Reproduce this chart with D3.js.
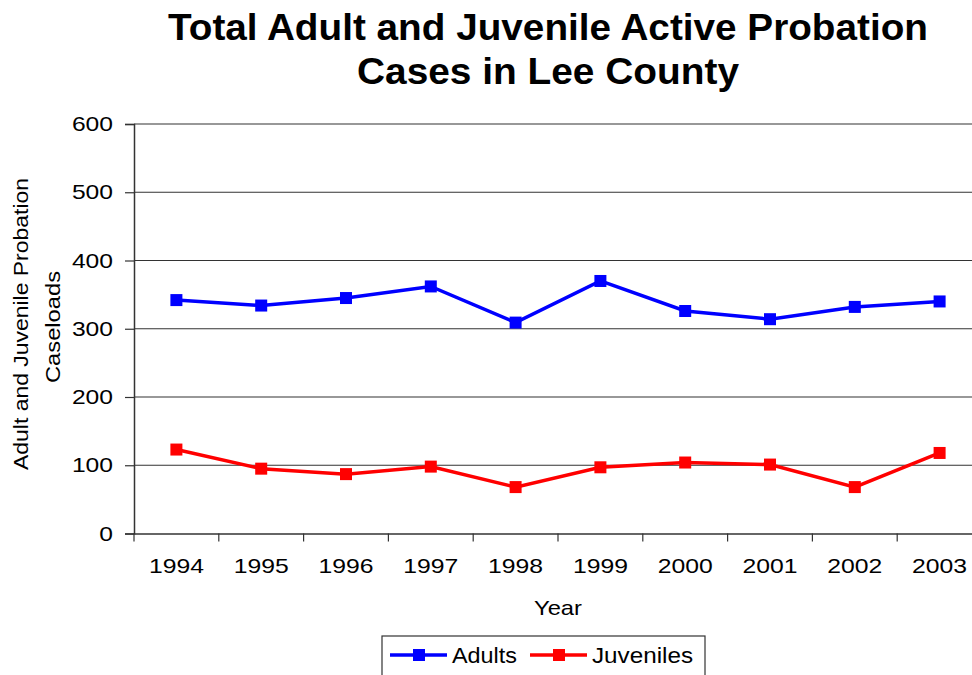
<!DOCTYPE html>
<html>
<head>
<meta charset="utf-8">
<script src="https://cdn.jsdelivr.net/npm/d3@7"></script>
<style>
  body { margin: 0; background: #fff; }
  svg { display: block; font-family: "Liberation Sans", Arial, sans-serif; }
</style>
</head>
<body>
<script>
const width = 972;
const height = 675;

const years = ["1994", "1995", "1996", "1997", "1998", "1999", "2000", "2001", "2002", "2003"];
const adults = [342, 334, 345, 362, 309, 370, 326, 314, 332, 340];
const juveniles = [123, 95, 87, 98, 68, 97, 104, 101, 68, 118];
const yTicks = [0, 100, 200, 300, 400, 500, 600];

const series = [
  { name: "Adults", values: adults, color: "#0000ff" },
  { name: "Juveniles", values: juveniles, color: "#ff0000" },
];

let margin = { top: 124, right: -10, bottom: 141.5, left: 134 };

let svg = d3
  .select("body")
  .append("svg")
  .attr("width", width)
  .attr("height", height);

let xScale = d3
  .scaleBand()
  .domain(years)
  .range([margin.left, width - margin.right]);

let yScale = d3
  .scaleLinear()
  .domain([0, 600])
  .range([height - margin.bottom, margin.top]);

// title
svg
  .append("text")
  .attr("x", 548)
  .attr("y", 40)
  .attr("text-anchor", "middle")
  .attr("font-size", 37)
  .attr("font-weight", "bold")
  .attr("textLength", 760)
  .attr("lengthAdjust", "spacingAndGlyphs")
  .text("Total Adult and Juvenile Active Probation");

svg
  .append("text")
  .attr("x", 548)
  .attr("y", 84)
  .attr("text-anchor", "middle")
  .attr("font-size", 37)
  .attr("font-weight", "bold")
  .attr("textLength", 382)
  .attr("lengthAdjust", "spacingAndGlyphs")
  .text("Cases in Lee County");

// gridlines
svg
  .append("g")
  .selectAll("line")
  .data(yTicks.filter((d) => d > 0))
  .join("line")
  .attr("x1", margin.left)
  .attr("x2", width)
  .attr("y1", (d) => yScale(d))
  .attr("y2", (d) => yScale(d))
  .attr("stroke", "#333")
  .attr("stroke-width", 1.2);

// axes
let leftAxis = d3.axisLeft(yScale).tickValues(yTicks).tickSize(9).tickPadding(12);
let yAxisG = svg
  .append("g")
  .attr("transform", `translate(${margin.left}, 0)`)
  .call(leftAxis);

let bottomAxis = d3
  .axisBottom(xScale)
  .tickSize(0)
  .tickPadding(25);
let xAxisG = svg
  .append("g")
  .attr("transform", `translate(0, ${yScale(0)})`)
  .call(bottomAxis);

// x ticks at category boundaries
svg
  .append("g")
  .selectAll("line")
  .data(years)
  .join("line")
  .attr("x1", (d) => xScale(d))
  .attr("x2", (d) => xScale(d))
  .attr("y1", yScale(0))
  .attr("y2", yScale(0) + 8)
  .attr("stroke", "#333")
  .attr("stroke-width", 1.2);

[yAxisG, xAxisG].forEach((g) => {
  g.select(".domain").attr("stroke", "#333").attr("stroke-width", 1.5);
  g.selectAll(".tick line").attr("stroke", "#333").attr("stroke-width", 1.2);
  g.selectAll(".tick text")
    .attr("font-size", 21)
    .attr("fill", "#000")
    .attr("font-family", "Liberation Sans, Arial, sans-serif")
    .attr("lengthAdjust", "spacingAndGlyphs");
});
xAxisG.selectAll(".tick text").attr("textLength", 55);
yAxisG.selectAll(".tick text").attr("textLength", (d) => String(d).length * 13.7);

// axis titles
svg
  .append("text")
  .attr("x", 558)
  .attr("y", 615)
  .attr("text-anchor", "middle")
  .attr("font-size", 21)
  .attr("textLength", 48)
  .attr("lengthAdjust", "spacingAndGlyphs")
  .text("Year");

let yTitle = svg
  .append("text")
  .attr("transform", "translate(28, 324) rotate(-90)")
  .attr("text-anchor", "middle")
  .attr("font-size", 21)
  .attr("lengthAdjust", "spacingAndGlyphs");
yTitle
  .append("tspan")
  .attr("x", 0)
  .attr("y", 0)
  .attr("textLength", 292)
  .attr("lengthAdjust", "spacingAndGlyphs")
  .text("Adult and Juvenile Probation");
yTitle
  .append("tspan")
  .attr("x", -3)
  .attr("y", 32)
  .attr("textLength", 112)
  .attr("lengthAdjust", "spacingAndGlyphs")
  .text("Caseloads");

// lines and markers
let line = d3
  .line()
  .x((d, i) => xScale(years[i]) + xScale.bandwidth() / 2)
  .y((d) => yScale(d));

series.forEach((s) => {
  svg
    .append("path")
    .datum(s.values)
    .attr("fill", "none")
    .attr("stroke", s.color)
    .attr("stroke-width", 3.5)
    .attr("d", line);

  svg
    .append("g")
    .selectAll("rect")
    .data(s.values)
    .join("rect")
    .attr("x", (d, i) => xScale(years[i]) + xScale.bandwidth() / 2 - 6)
    .attr("y", (d) => yScale(d) - 6)
    .attr("width", 12)
    .attr("height", 12)
    .attr("fill", s.color);
});

// legend
let legend = svg.append("g").attr("transform", "translate(382, 636)");
legend
  .append("rect")
  .attr("width", 323)
  .attr("height", 50)
  .attr("fill", "#fff")
  .attr("stroke", "#333")
  .attr("stroke-width", 1.2);

let legendX = [8, 148];
let legendW = [65, 101];
series.forEach((s, i) => {
  let item = legend.append("g").attr("transform", `translate(${legendX[i]}, 19)`);
  item
    .append("line")
    .attr("x1", 0)
    .attr("x2", 57)
    .attr("stroke", s.color)
    .attr("stroke-width", 3.5);
  item
    .append("rect")
    .attr("x", 23)
    .attr("y", -6)
    .attr("width", 12)
    .attr("height", 12)
    .attr("fill", s.color);
  item
    .append("text")
    .attr("x", 62)
    .attr("y", 8)
    .attr("font-size", 22)
    .attr("textLength", legendW[i])
    .attr("lengthAdjust", "spacingAndGlyphs")
    .text(s.name);
});
</script>
</body>
</html>
